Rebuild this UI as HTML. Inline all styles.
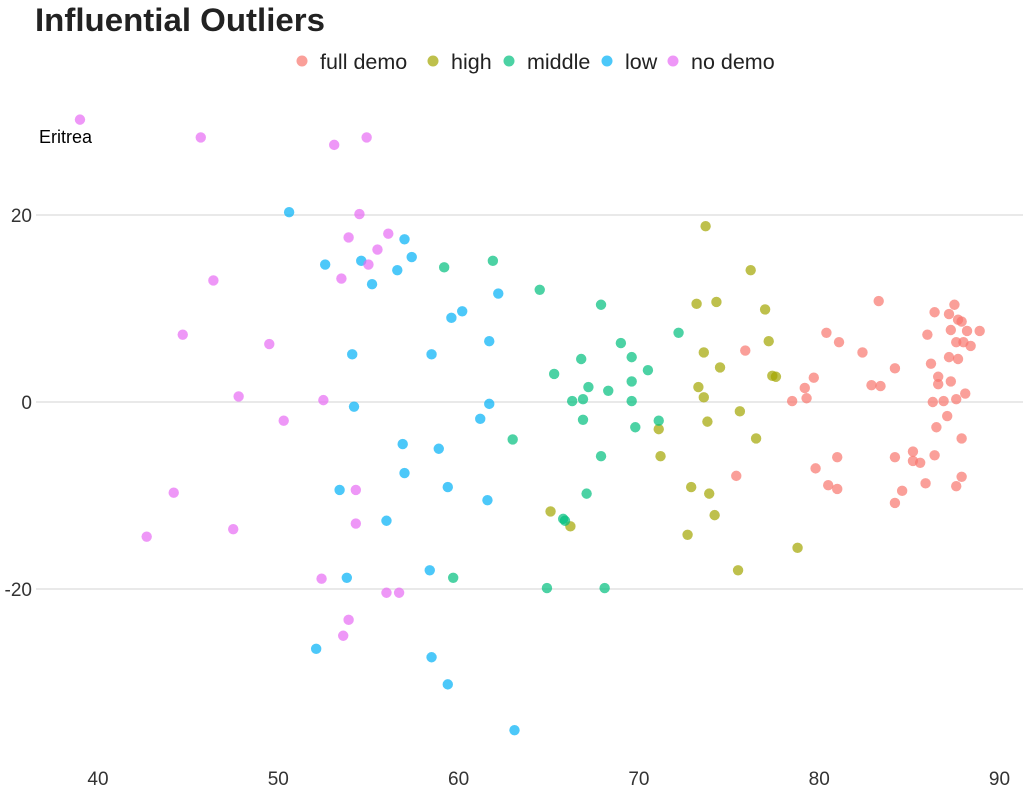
<!DOCTYPE html>
<html><head><meta charset="utf-8"><style>
body{margin:0;background:#fff;}
svg text{font-family:"Liberation Sans",sans-serif;}
</style></head><body>
<svg id="chart" width="1023" height="795" xmlns="http://www.w3.org/2000/svg">
<text x="35" y="31" font-size="32" font-weight="bold" fill="#222" textLength="290" lengthAdjust="spacingAndGlyphs">Influential Outliers</text>
<g id="legend"></g>
<g id="grid"></g>
<g id="points"></g>
<text x="39" y="143" font-size="18" fill="#000">Eritrea</text>
</svg>
<script>
const groups=["full demo","high","middle","low","no demo"];
const colors=["#F8766D","#A3A500","#00BF7D","#00B0F6","#E76BF3"];
const xTicks=[40,50,60,70,80,90];
const yTicks=[20,0,-20];
const fullX=[83.3,87.5,86.4,87.2,87.7,87.9,80.4,88.2,88.9,87.3,86.0,81.1,87.6,88.0,88.4,75.9,82.4,87.2,87.7,86.2,84.2,79.7,86.6,86.6,87.3,82.9,83.4,79.2,88.1,79.3,78.5,86.3,86.9,87.6,87.1,86.5,87.9,85.2,86.4,84.2,81.0,85.2,85.6,75.4,87.9,79.8,85.9,87.6,80.5,81.0,84.6,84.2];
const fullY=[10.8,10.4,9.6,9.4,8.8,8.6,7.4,7.6,7.6,7.7,7.2,6.4,6.4,6.4,6.0,5.5,5.3,4.8,4.6,4.1,3.6,2.6,2.7,1.9,2.2,1.8,1.7,1.5,0.9,0.4,0.1,0.0,0.1,0.3,-1.5,-2.7,-3.9,-5.3,-5.7,-5.9,-5.9,-6.3,-6.5,-7.9,-8.0,-7.1,-8.7,-9.0,-8.9,-9.3,-9.5,-10.8];
const highX=[73.7,76.2,73.2,74.3,77.0,77.2,73.6,74.5,77.4,77.6,73.3,73.6,75.6,73.8,71.1,76.5,71.2,72.9,73.9,65.1,74.2,66.2,72.7,78.8,75.5];
const highY=[18.8,14.1,10.5,10.7,9.9,6.5,5.3,3.7,2.8,2.7,1.6,0.5,-1.0,-2.1,-2.9,-3.9,-5.8,-9.1,-9.8,-11.7,-12.1,-13.3,-14.2,-15.6,-18.0];
const midX=[59.2,61.9,64.5,67.9,72.2,69.0,69.6,66.8,65.3,70.5,67.2,69.6,68.3,66.3,66.9,69.6,66.9,69.8,71.1,63.0,67.9,67.1,65.8,65.9,59.7,64.9,68.1];
const midY=[14.4,15.1,12.0,10.4,7.4,6.3,4.8,4.6,3.0,3.4,1.6,2.2,1.2,0.1,0.3,0.1,-1.9,-2.7,-2.0,-4.0,-5.8,-9.8,-12.5,-12.7,-18.8,-19.9,-19.9];
const lowX=[50.6,57.0,57.4,52.6,54.6,56.6,55.2,62.2,60.2,59.6,61.7,54.1,58.5,54.2,61.7,61.2,56.9,58.9,57.0,59.4,53.4,61.6,56.0,53.8,58.4,52.1,58.5,59.4,63.1];
const lowY=[20.3,17.4,15.5,14.7,15.1,14.1,12.6,11.6,9.7,9.0,6.5,5.1,5.1,-0.5,-0.2,-1.8,-4.5,-5.0,-7.6,-9.1,-9.4,-10.5,-12.7,-18.8,-18.0,-26.4,-27.3,-30.2,-35.1];
const noX=[39.0,45.7,53.1,54.9,54.5,56.1,53.9,55.5,55.0,53.5,46.4,44.7,49.5,47.8,50.3,52.5,44.2,54.3,47.5,42.7,54.3,52.4,56.0,56.7,53.9,53.6];
const noY=[30.2,28.3,27.5,28.3,20.1,18.0,17.6,16.3,14.7,13.2,13.0,7.2,6.2,0.6,-2.0,0.2,-9.7,-9.4,-13.6,-14.4,-13.0,-18.9,-20.4,-20.4,-23.3,-25.0];
const seriesX=[fullX,highX,midX,lowX,noX];
const seriesY=[fullY,highY,midY,lowY,noY];
const NS="http://www.w3.org/2000/svg";
function sx(v){return 98+(v-40)*18.03;}
function sy(v){return 402-v*9.35;}
function mk(tag,attrs,parent){const e=document.createElementNS(NS,tag);for(const k in attrs)e.setAttribute(k,attrs[k]);parent.appendChild(e);return e;}
const grid=document.getElementById('grid');
yTicks.forEach(t=>{
 const l=mk('line',{x1:36,x2:1023,y1:sy(t),y2:sy(t),stroke:'#dcdcdc','stroke-width':1.2},grid);
 
 
 const tx=mk('text',{x:32,y:sy(t)+7,'text-anchor':'end','font-size':19,fill:'#333'},grid);
 tx.textContent=t;
 
 
});
xTicks.forEach(t=>{
 const tx=mk('text',{x:sx(t),y:785,'text-anchor':'middle','font-size':19,fill:'#333'},grid);
 tx.textContent=t;
 
 
});
const pts=document.getElementById('points');
seriesX.forEach((xs,g)=>{
 xs.forEach((x,i)=>{
  const c=mk('circle',{cx:sx(x),cy:sy(seriesY[g][i]),r:5.2,fill:colors[g],'fill-opacity':0.7},pts);
  
  
 });
});
const lg=document.getElementById('legend');
const lx=[302,433,509,607,673];
groups.forEach((g,i)=>{
 const c=mk('circle',{cx:lx[i],cy:61,r:5.5,fill:colors[i],'fill-opacity':0.7},lg);
 
 
 const t=mk('text',{x:lx[i]+18,y:69,'font-size':21.5,fill:'#222'},lg);
 t.textContent=g;
 
 
});
</script>
</body></html>
